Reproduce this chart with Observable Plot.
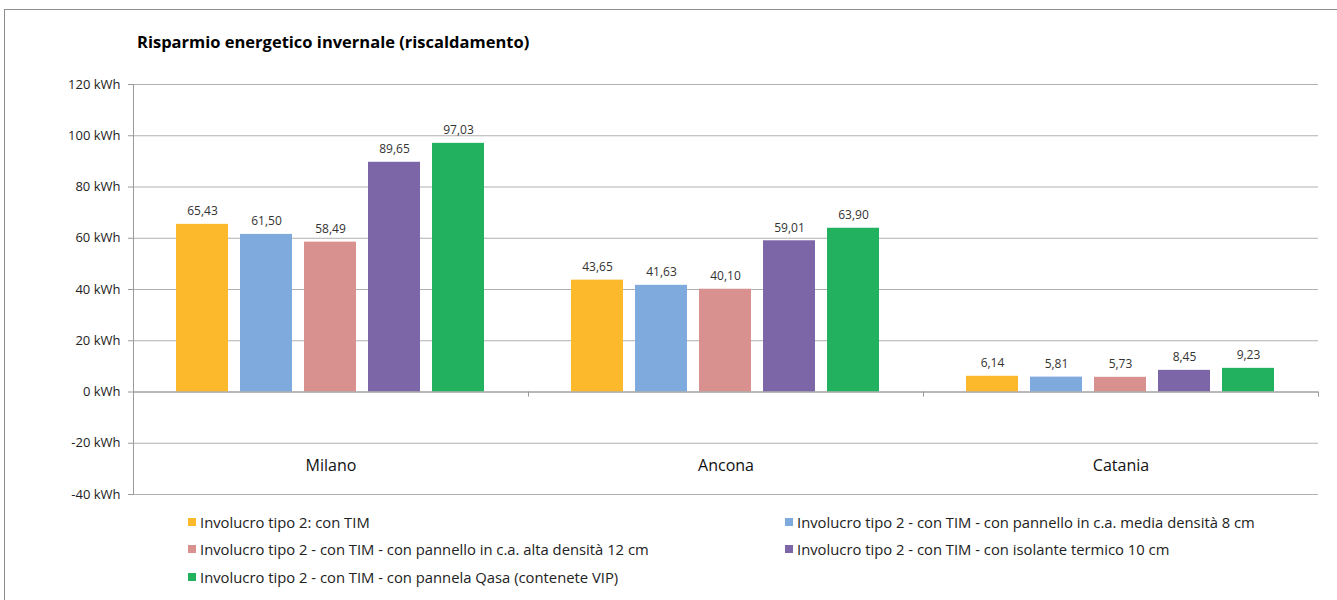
<!DOCTYPE html>
<html>
<head>
<meta charset="utf-8">
<script src="https://cdn.jsdelivr.net/npm/d3@7"></script>
<script src="https://cdn.jsdelivr.net/npm/@observablehq/plot@0.6"></script>
<style>
  html, body { margin: 0; padding: 0; background: #fff; width: 1337px; height: 600px; overflow: hidden; font-family: "Open Sans", sans-serif; }
  #frame { position: absolute; left: 4px; top: 9px; width: 1400px; height: 700px; border: 1px solid #8c8c8c; box-sizing: border-box; }
  #title { position: absolute; left: 137px; top: 30px; font-size: 16.5px; font-weight: bold; color: #000; white-space: nowrap; }
  #chart { position: absolute; left: 0; top: 60px; }
  #legend { position: absolute; left: 188px; top: 508px; display: grid; grid-template-columns: 597px auto; grid-auto-rows: 27.5px; font-size: 14.8px; color: #222; }
  #legend .item { display: flex; align-items: center; white-space: nowrap; }
  #legend .sw { width: 8px; height: 8px; margin-right: 4px; }
</style>
</head>
<body>
<div id="frame"></div>
<div id="title">Risparmio energetico invernale (riscaldamento)</div>
<div id="chart"></div>
<div id="legend"></div>
<script>
const cities = ["Milano", "Ancona", "Catania"];
const series = [
  "Involucro tipo 2: con TIM",
  "Involucro tipo 2 - con TIM - con pannello in c.a. media densità 8 cm",
  "Involucro tipo 2 - con TIM - con pannello in c.a. alta densità 12 cm",
  "Involucro tipo 2 - con TIM - con isolante termico 10 cm",
  "Involucro tipo 2 - con TIM - con pannela Qasa (contenete VIP)"
];
const milano  = [65.43, 61.50, 58.49, 89.65, 97.03];
const ancona  = [43.65, 41.63, 40.10, 59.01, 63.90];
const catania = [6.14, 5.81, 5.73, 8.45, 9.23];
const yTicks = [-40, -20, 0, 20, 40, 60, 80, 100, 120];

const colors = ["#FDB92C", "#7FAADD", "#D99190", "#7D66A8", "#22B25F"];

const valuesByCity = [milano, ancona, catania];
const data = [];
cities.forEach((c, ci) => series.forEach((s, si) => data.push({city: c, series: s, value: valuesByCity[ci][si]})));

const fmt = v => d3.format(".2f")(v).replace(".", ",");

const W = 1337, ML = 133, MR = 19;
const facetW = (W - ML - MR) / cities.length;

const chart = Plot.plot({
  width: W,
  height: 440,
  marginLeft: ML,
  marginRight: MR,
  marginTop: 24,
  marginBottom: 6,
  style: {fontFamily: "'Open Sans', sans-serif", fontSize: "13px", color: "#222", background: "transparent", overflow: "visible"},
  fx: {domain: cities, padding: 0, axis: null},
  x: {domain: series, paddingInner: 0.185, paddingOuter: 0.66, axis: null},
  y: {domain: [-40, 120], axis: null},
  color: {domain: series, range: colors},
  marks: [
    Plot.gridY(yTicks, {stroke: "#b0b0b0", strokeOpacity: 1}),
    Plot.axisY(yTicks, {tickFormat: d => d + " kWh", tickSize: 5, tickPadding: 8, stroke: "#9a9a9a", fontSize: 13, label: null, facetAnchor: "left"}),
    Plot.frame({anchor: "left", stroke: "#9a9a9a", facetAnchor: "left"}),
    Plot.barY(data, {fx: "city", x: "series", y: "value", fill: "series"}),
    Plot.ruleY([0], {stroke: "#9a9a9a"}),
    Plot.ruleX(cities, {fx: d => d, x: null, y1: 0, y2: -2, dx: facetW / 2, stroke: "#9a9a9a"}),
    Plot.text(data, {fx: "city", x: "series", y: "value", text: d => fmt(d.value), dy: -13, fontSize: 12, fill: "#333"}),
    Plot.text(cities, {fx: d => d, text: d => d, frameAnchor: "bottom", dy: -24, fontSize: 16, fill: "#111"})
  ]
});
document.getElementById("chart").appendChild(chart);

const legend = document.getElementById("legend");
series.forEach((s, i) => {
  const item = document.createElement("div");
  item.className = "item";
  const sw = document.createElement("span");
  sw.className = "sw";
  sw.style.background = colors[i];
  const t = document.createElement("span");
  t.textContent = s;
  item.appendChild(sw);
  item.appendChild(t);
  legend.appendChild(item);
});
</script>
</body>
</html>
